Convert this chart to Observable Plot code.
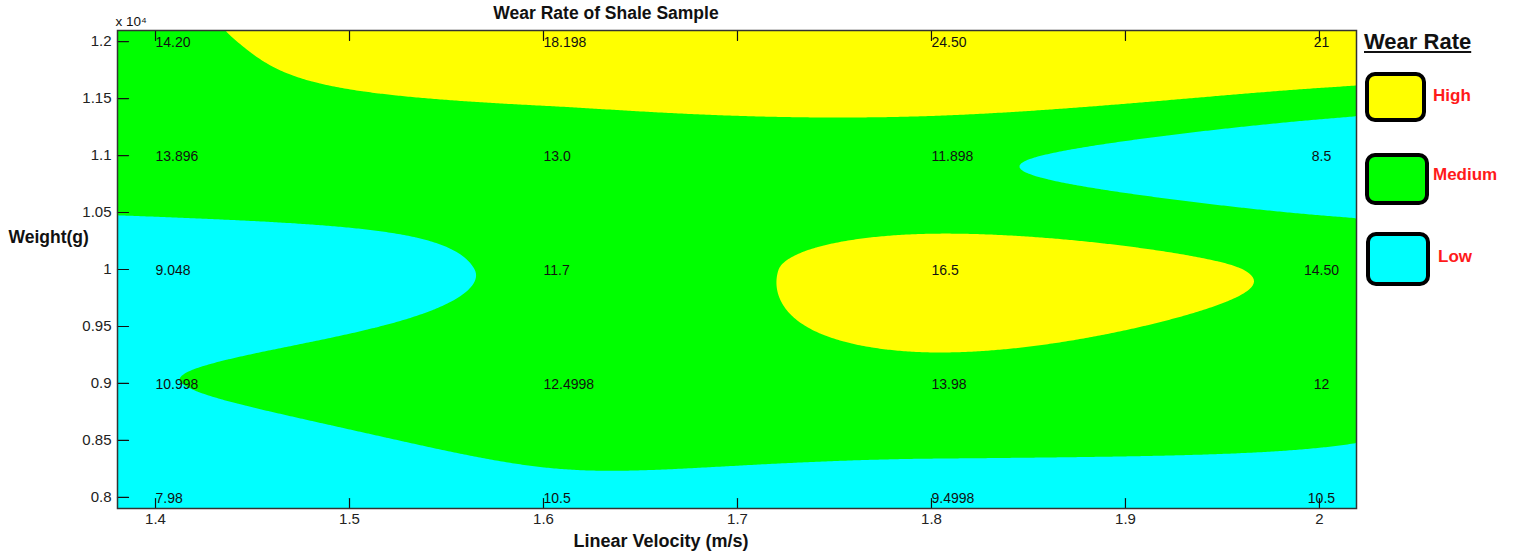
<!DOCTYPE html>
<html><head><meta charset="utf-8">
<script src="https://cdn.jsdelivr.net/npm/d3@7"></script>
<script src="https://cdn.jsdelivr.net/npm/@observablehq/plot@0.6"></script>
<style>
body{margin:0;background:#fff;font-family:"Liberation Sans",Arial,sans-serif;}
#chart{position:relative;width:1517px;height:557px;overflow:hidden;}
#chart svg{position:absolute;left:0;top:0;}
.lg-title{position:absolute;left:1364px;top:31px;font-weight:bold;font-size:22px;line-height:1;text-decoration:underline;color:#111;}
.lg-box{position:absolute;border:4px solid #000;border-radius:10px;box-sizing:border-box;}
.lg-label{position:absolute;font-weight:bold;font-size:17px;line-height:1;color:#ff1a1a;}
</style></head><body><div id="chart"></div>
<script>
// ---- data ----
const velocities = [1.4, 1.6, 1.8, 2.0];
const weights = [8000, 9000, 10000, 11000, 12000];
const wearRates = [            // one row per weight, one column per velocity
  [7.98, 10.5, 9.4998, 10.5],
  [10.998, 12.4998, 13.98, 12],
  [9.048, 11.7, 16.5, 14.50],
  [13.896, 13.0, 11.898, 8.5],
  [14.20, 18.198, 24.50, 21]
];
const wearLabels = [
  ["7.98", "10.5", "9.4998", "10.5"],
  ["10.998", "12.4998", "13.98", "12"],
  ["9.048", "11.7", "16.5", "14.50"],
  ["13.896", "13.0", "11.898", "8.5"],
  ["14.20", "18.198", "24.50", "21"]
];
const levelNames = ["Low", "Medium", "High"];
const levelColors = ["#00ffff", "#00ff00", "#ffff00"];
const levelThresholds = [11.1, 15];
const xTicks = [1.4, 1.5, 1.6, 1.7, 1.8, 1.9, 2];
const xTickLabels = ["1.4", "1.5", "1.6", "1.7", "1.8", "1.9", "2"];
const yTicks = [8000, 8500, 9000, 9500, 10000, 10500, 11000, 11500, 12000];
const yTickLabels = ["0.8", "0.85", "0.9", "0.95", "1", "1.05", "1.1", "1.15", "1.2"];

// ---- smooth interpolation of the measured grid (separable Catmull-Rom / cubic Hermite) ----
function hermite1d(xs, ys) {
  const n = xs.length, m = new Array(n);
  for (let i = 0; i < n; i++) {
    if (i === 0) m[i] = (ys[1] - ys[0]) / (xs[1] - xs[0]);
    else if (i === n - 1) m[i] = (ys[n - 1] - ys[n - 2]) / (xs[n - 1] - xs[n - 2]);
    else m[i] = (ys[i + 1] - ys[i - 1]) / (xs[i + 1] - xs[i - 1]);
  }
  return (x) => {
    if (x <= xs[0]) return ys[0] + m[0] * (x - xs[0]);
    if (x >= xs[n - 1]) return ys[n - 1] + m[n - 1] * (x - xs[n - 1]);
    let i = 0;
    while (i < n - 2 && x > xs[i + 1]) i++;
    const h = xs[i + 1] - xs[i], t = (x - xs[i]) / h, t2 = t * t, t3 = t2 * t;
    return (2 * t3 - 3 * t2 + 1) * ys[i] + (t3 - 2 * t2 + t) * h * m[i]
      + (-2 * t3 + 3 * t2) * ys[i + 1] + (t3 - t2) * h * m[i + 1];
  };
}
const rowCurves = wearRates.map(row => hermite1d(velocities, row));
const wearAt = (x, y) => hermite1d(weights, rowCurves.map(f => f(x)))(y);

const cells = weights.flatMap((w, j) => velocities.map((v, i) => ({v, w, label: wearLabels[j][i]})));
const tick = {draw(ctx, l) { ctx.moveTo(0, 0); ctx.lineTo(0, -l); }};
const X0 = 1.3804, X1 = 2.0191, Y0 = 7903, Y1 = 12097;

const plot = Plot.plot({
  width: 1517, height: 557,
  marginLeft: 117, marginRight: 161, marginTop: 30, marginBottom: 49,
  x: {domain: [X0, X1]},
  y: {domain: [Y0, Y1]},
  color: {type: "threshold", domain: levelThresholds, range: levelColors},
  style: {fontFamily: "'Liberation Sans', Arial, sans-serif", fontSize: "15px", color: "#222", background: "white"},
  marks: [
    Plot.frame({fill: levelColors[0], stroke: "none"}),
    Plot.contour({value: wearAt, x1: X0, x2: X1, y1: Y0, y2: Y1, thresholds: levelThresholds, fill: "value", stroke: "none"}),
    Plot.text(cells.filter(d => d.v < 2), {x: "v", y: "w", text: "label", textAnchor: "start", dx: 0, dy: 1, fontSize: 14, fill: "#111"}),
    Plot.text(cells.filter(d => d.v >= 2), {x: "v", y: "w", text: "label", textAnchor: "middle", dx: 2, dy: 1, fontSize: 14, fill: "#111"}),
    Plot.axisX({ticks: xTicks, tickSize: 0, tickPadding: 5, tickFormat: d => xTickLabels[xTicks.indexOf(d)], label: null, fontSize: 15}),
    Plot.axisY({ticks: yTicks, tickSize: 0, tickPadding: 6, tickFormat: d => yTickLabels[yTicks.indexOf(d)], label: null, fontSize: 15}),
    Plot.vector(xTicks, {x: d => d, frameAnchor: "bottom", length: 10, rotate: 0, anchor: "start", shape: tick, stroke: "#111", strokeWidth: 1.2}),
    Plot.vector(xTicks, {x: d => d, frameAnchor: "top", length: 10, rotate: 180, anchor: "start", shape: tick, stroke: "#111", strokeWidth: 1.2}),
    Plot.vector(yTicks, {y: d => d, frameAnchor: "left", length: 11, rotate: 90, anchor: "start", shape: tick, stroke: "#111", strokeWidth: 1.2}),
    Plot.frame({stroke: "#333", strokeWidth: 1.5}),
    Plot.text(["Wear Rate of Shale Sample"], {frameAnchor: "top", dx: -131, dy: -12, fontWeight: "bold", fontSize: 17.5, fill: "#111", lineAnchor: "bottom"}),
    Plot.text(["Linear Velocity (m/s)"], {frameAnchor: "bottom", dx: -76, dy: 38, fontWeight: "bold", fontSize: 18, fill: "#111"}),
    Plot.text(["Weight(g)"], {frameAnchor: "left", textAnchor: "start", dx: -109, dy: -32, fontWeight: "bold", fontSize: 17.5, fill: "#111"}),
    Plot.text(["x 10⁴"], {frameAnchor: "top-left", textAnchor: "start", dx: -2, dy: -5, fontSize: 13.5, fill: "#111", lineAnchor: "bottom"})
  ]
});
const chart = document.getElementById("chart");
chart.appendChild(plot);

// legend
const lt = document.createElement("div"); lt.className = "lg-title"; lt.textContent = "Wear Rate"; chart.appendChild(lt);
const boxes = {High: [1365, 72, 61, 50], Medium: [1365, 153, 64, 52], Low: [1366, 232, 64, 54]};
const labelPos = {High: [1433, 87], Medium: [1433, 166], Low: [1438, 248]};
[2, 1, 0].forEach(k => {
  const name = levelNames[k];
  const [bx, by, bw, bh] = boxes[name];
  const b = document.createElement("div"); b.className = "lg-box";
  Object.assign(b.style, {left: bx + "px", top: by + "px", width: bw + "px", height: bh + "px", background: levelColors[k]});
  chart.appendChild(b);
  const l = document.createElement("div"); l.className = "lg-label"; l.textContent = name;
  l.style.left = labelPos[name][0] + "px"; l.style.top = labelPos[name][1] + "px";
  chart.appendChild(l);
});
</script></body></html>
